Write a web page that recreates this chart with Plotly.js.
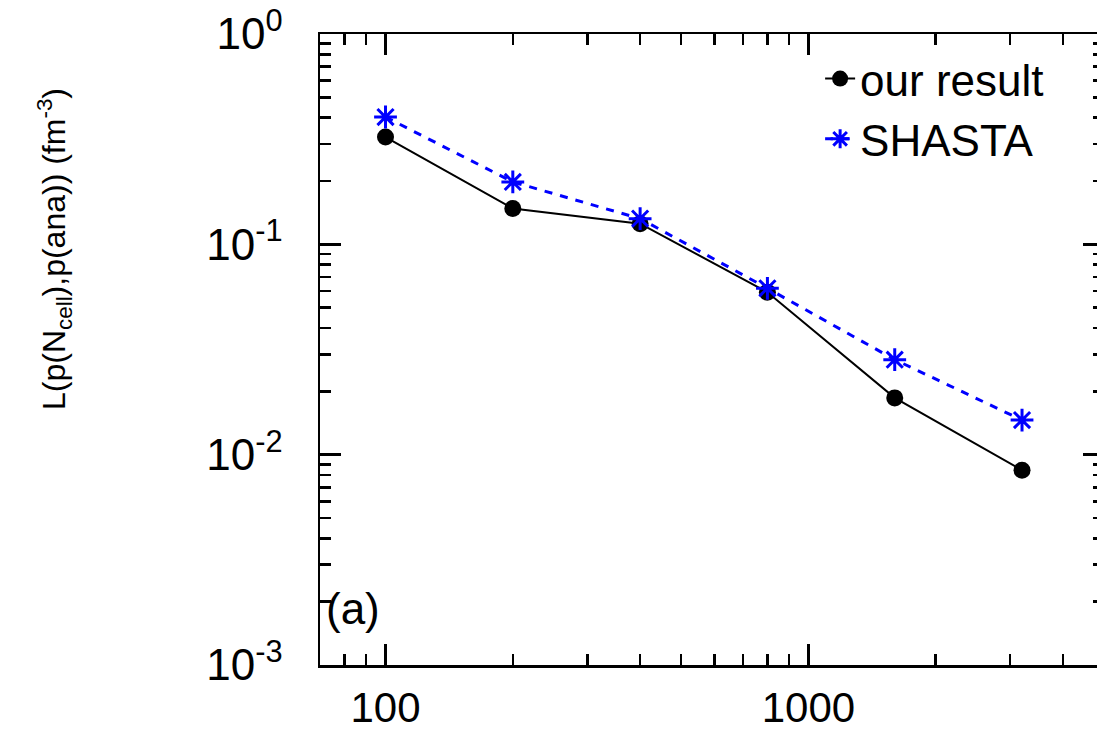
<!DOCTYPE html>
<html>
<head>
<meta charset="utf-8">
<script src="https://cdn.plot.ly/plotly-3.0.1.min.js"></script>
<style>
html,body{margin:0;padding:0;overflow:hidden;background:#fff;}
#chart{width:1110px;height:734px;}
</style>
</head>
<body>
<div id="chart"></div>
<script>
// Data
const nCell = [100, 200, 400, 800, 1600, 3200];
const ourResult = [0.3235, 0.148, 0.1254, 0.0592, 0.01862, 0.00844];
const shasta = [0.403, 0.198, 0.1325, 0.0618, 0.0283, 0.0146];
const xTickVals = [100, 1000];
const xTickText = ['100', '1000'];
const yTickVals = [0.001, 0.01, 0.1, 1];
const yTickText = ['10<sup>-3</sup>', '10<sup>-2</sup>', '10<sup>-1</sup>', '10<sup>0</sup>'];
const seriesNames = ['our result', 'SHASTA'];
const yTitle = 'L(p(N<sub>cell</sub>),p(ana)) (fm<sup>-3</sup>)';
const panelLabel = '(a)';

const FONT = 'Liberation Sans, Arial, Helvetica, sans-serif';

const traces = [
  {
    x: nCell, y: ourResult, name: seriesNames[0],
    mode: 'lines+markers', type: 'scatter',
    line: {color: '#000000', width: 2},
    marker: {symbol: 'circle', size: 17, color: '#000000'}
  },
  {
    x: nCell, y: shasta, name: seriesNames[1],
    mode: 'lines+markers', type: 'scatter',
    line: {color: '#0000ff', width: 3, dash: '8px,8px'},
    marker: {symbol: 'asterisk-open', size: 19, color: '#0000ff', line: {color: '#0000ff', width: 3}}
  }
];

const axisCommon = {
  type: 'log',
  showgrid: false, zeroline: false,
  showline: true, linecolor: '#000', linewidth: 2.5,
  mirror: 'ticks', ticks: 'inside', ticklen: 21, tickwidth: 2.5, tickcolor: '#000',
  minor: {ticks: 'inside', ticklen: 11, tickwidth: 2.5, tickcolor: '#000', dtick: 'D1', showgrid: false},
  tickmode: 'array'
};

const layout = {
  width: 1110, height: 734,
  margin: {l: 320, r: 6, t: 34, b: 69},
  paper_bgcolor: '#fff', plot_bgcolor: '#fff',
  font: {family: FONT, color: '#000', size: 44},
  showlegend: true,
  legend: {
    x: 0.93, xanchor: 'right', y: 0.985, yanchor: 'top',
    bgcolor: 'rgba(0,0,0,0)', borderwidth: 0,
    font: {family: FONT, size: 44, color: '#000'},
    tracegroupgap: 0
  },
  xaxis: Object.assign({}, axisCommon, {
    range: [Math.log10(70), Math.log10(5000)],
    tickvals: xTickVals, ticktext: xTickText,
    tickfont: {family: FONT, size: 42, color: '#000'},
    ticklabelstandoff: 4
  }),
  yaxis: Object.assign({}, axisCommon, {
    range: [-3, 0],
    tickvals: yTickVals, ticktext: yTickText,
    tickfont: {family: FONT, size: 44, color: '#000'},
    ticklabelstandoff: 26
  }),
  annotations: [
    {
      text: yTitle, xref: 'paper', yref: 'paper',
      x: (55 - 320) / 784, y: 1 - (249 - 34) / 631,
      xanchor: 'center', yanchor: 'middle', textangle: -90, showarrow: false,
      font: {family: FONT, size: 32, color: '#000'}
    },
    {
      text: panelLabel, xref: 'paper', yref: 'paper',
      x: 0, y: 1 - (608 - 34) / 631, xanchor: 'left', yanchor: 'middle',
      xshift: 4, showarrow: false,
      font: {family: FONT, size: 44, color: '#000'}
    }
  ]
};

Plotly.newPlot('chart', traces, layout, {displayModeBar: false, staticPlot: true});
</script>
</body>
</html>
